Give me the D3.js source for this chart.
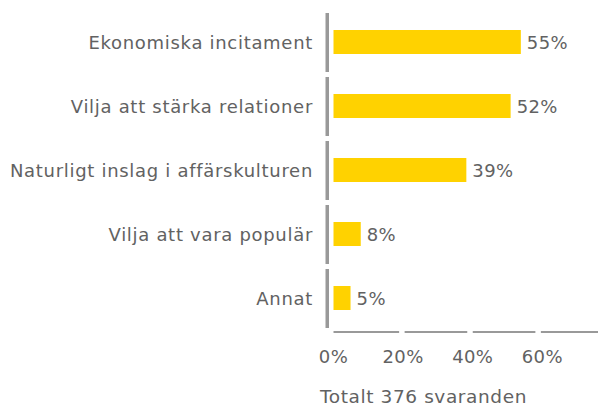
<!DOCTYPE html>
<html>
<head>
<meta charset="utf-8">
<script src="https://cdn.jsdelivr.net/npm/d3@7"></script>
<style>
  body { margin: 0; background: #fff; }
  svg text { font-family: 'DejaVu Sans', sans-serif; fill: #626262; }
</style>
</head>
<body>
<svg id="chart" width="598" height="407"></svg>
<script>
const categories = [
  'Ekonomiska incitament',
  'Vilja att stärka relationer',
  'Naturligt inslag i affärskulturen',
  'Vilja att vara populär',
  'Annat'
]
const values = [55, 52, 39, 8, 5]
const ticks = [0, 20, 40, 60, 80]
const note = 'Totalt 376 svaranden'

const svg = d3.select('#chart')
const gray = '#999'

const x = d3.scaleLinear().domain([0, 80]).range([333.5, 606])
const y = d3.scaleBand().domain(categories).range([12, 332])

// segmented left axis, one piece per category
svg.selectAll('.yseg')
  .data(categories)
  .enter()
  .append('rect')
  .attr('x', 325.5)
  .attr('y', d => y(d) + 1)
  .attr('width', 3.5)
  .attr('height', y.bandwidth() - 5)
  .attr('fill', gray)

// segmented bottom axis between ticks
svg.selectAll('.xseg')
  .data(ticks.slice(0, -1))
  .enter()
  .append('rect')
  .attr('x', (d, i) => x(d) + (i ? 3 : 0))
  .attr('y', 331)
  .attr('width', (d, i) => x(ticks[i + 1]) - x(d) - (i ? 3 : 0) - 2.5)
  .attr('height', 2)
  .attr('fill', gray)

svg.selectAll('.tick')
  .data(ticks.slice(0, -1))
  .enter()
  .append('text')
  .attr('x', (d, i) => x(d) + i * 1.5)
  .attr('y', 363)
  .attr('text-anchor', 'middle')
  .style('font-size', '18px')
  .style('letter-spacing', '0.4px')
  .text(d => d + '%')

svg.selectAll('.bar')
  .data(values)
  .enter()
  .append('rect')
  .attr('x', x(0))
  .attr('y', (d, i) => y(categories[i]) + y.bandwidth() / 2 - 14)
  .attr('width', d => x(d) - x(0))
  .attr('height', 24)
  .attr('fill', '#FFD200')

svg.selectAll('.val')
  .data(values)
  .enter()
  .append('text')
  .attr('x', d => x(d) + 6)
  .attr('y', (d, i) => y(categories[i]) + y.bandwidth() / 2 + 5)
  .style('font-size', '18px')
  .style('letter-spacing', '0.4px')
  .text(d => d + '%')

svg.selectAll('.cat')
  .data(categories)
  .enter()
  .append('text')
  .attr('x', 313)
  .attr('y', d => y(d) + y.bandwidth() / 2 + 5)
  .attr('text-anchor', 'end')
  .style('font-size', '18px')
  .style('letter-spacing', '0.7px')
  .text(d => d)

svg.append('text')
  .attr('x', 320)
  .attr('y', 403)
  .style('font-size', '18.5px')
  .style('letter-spacing', '0.6px')
  .text(note)
</script>
</body>
</html>
